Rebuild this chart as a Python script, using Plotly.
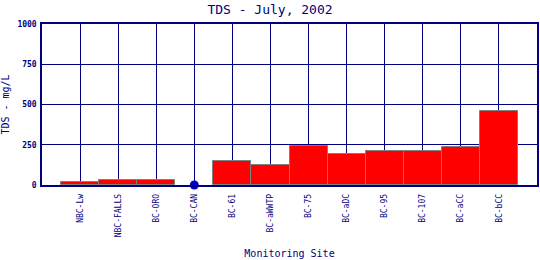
import plotly.graph_objects as go

sites = ["NBC-Lw", "NBC-FALLS", "BC-ORO", "BC-CAN", "BC-61", "BC-aWWTP",
         "BC-75", "BC-aDC", "BC-95", "BC-107", "BC-aCC", "BC-bCC"]
tds = [17, 29, 29, None, 148, 123, 243, 191, 210, 210, 235, 461]
point_sites = ["BC-CAN"]
point_vals = [0]
yticks = [0, 250, 500, 750, 1000]

navy = "#000080"
mono = "DejaVu Sans Mono"

fig = go.Figure()
fig.add_trace(go.Bar(x=sites, y=tds, marker=dict(color="#FF0000",
                     line=dict(color="#808080", width=1)), width=1.0))
fig.add_trace(go.Scatter(x=point_sites, y=point_vals, mode="markers",
                         marker=dict(color="#0000CC", size=9), cliponaxis=False))

fig.update_layout(
    width=540, height=260,
    margin=dict(l=42, r=3, t=24, b=75),
    paper_bgcolor="white", plot_bgcolor="white",
    showlegend=False, bargap=0,
    title=dict(text="TDS - July, 2002", x=0.5, xanchor="center", y=0.965, yanchor="middle",
               font=dict(family=mono, size=13, color=navy)),
)
fig.update_xaxes(
    type="category", categoryorder="array", categoryarray=sites,
    range=[-1, len(sites)], tickangle=-90, automargin=False,
    tickfont=dict(family=mono, size=8, color=navy),
    showgrid=True, gridcolor=navy, gridwidth=1,
    showline=True, linecolor=navy, linewidth=1.5, mirror=True,
    ticks="", ticklabelstandoff=4,
    title=dict(text="Monitoring Site", font=dict(family=mono, size=10, color=navy), standoff=14),
    fixedrange=True,
)
fig.update_yaxes(
    range=[0, 1000], tickvals=yticks, ticktext=[f"<b>{v}</b>" for v in yticks],
    tickfont=dict(family=mono, size=8, color=navy), automargin=False,
    showgrid=True, gridcolor=navy, gridwidth=1, zeroline=False,
    showline=True, linecolor=navy, linewidth=1.5, mirror=True,
    ticks="", ticklabelstandoff=2,
    title=dict(text="TDS - mg/L", font=dict(family=mono, size=10, color=navy), standoff=10),
    fixedrange=True,
)

fig.write_html("out.html", config={"displayModeBar": False})
